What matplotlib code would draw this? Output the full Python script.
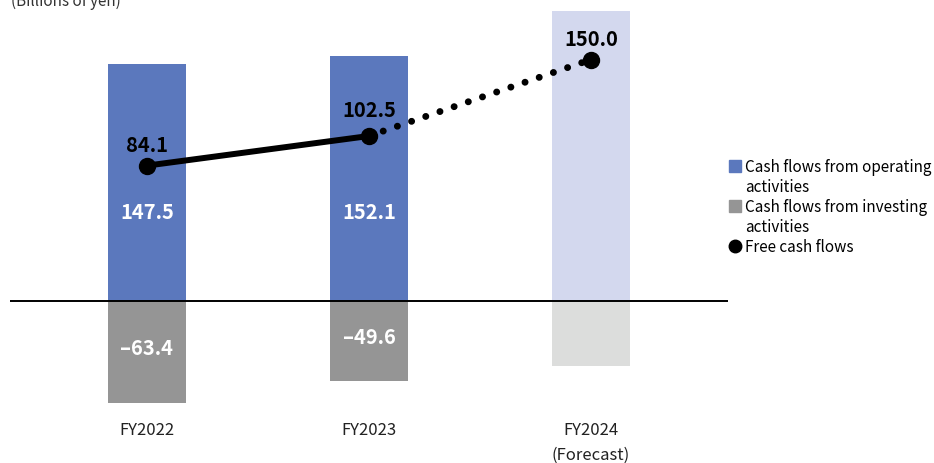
import matplotlib
matplotlib.use("Agg")
import matplotlib.pyplot as plt
from matplotlib.patches import Patch
from matplotlib.lines import Line2D

plt.rcParams['font.family'] = ['Noto Sans CJK JP', 'DejaVu Sans']

# data (billions of yen)
years = ['FY2022', 'FY2023', 'FY2024\n(Forecast)']
operating = [147.5, 152.1, 180.0]
investing = [-63.4, -49.6, -40.3]
free_cf = [84.1, 102.5, 150.0]
show_bar_labels = [True, True, False]

blue = '#5b78bd'
gray = '#959595'
blue_fc = '#d3d8ee'
gray_fc = '#dcdddc'


def main():
    fig = plt.figure(figsize=(9.34, 4.64), dpi=100)
    ax = fig.add_axes([10 / 934, 54 / 464, 718 / 934, 410 / 464])

    x = list(range(len(years)))
    op_colors = [blue, blue, blue_fc]
    inv_colors = [gray, gray, gray_fc]
    ax.bar(x, operating, width=0.35, color=op_colors, zorder=1)
    ax.bar(x, investing, width=0.35, color=inv_colors, zorder=1)
    ax.axhline(0, color='black', lw=1.4, zorder=2)

    # bar value labels
    for i in x:
        if not show_bar_labels[i]:
            continue
        ax.text(i, 55.5, f'{operating[i]:.1f}', color='white', fontsize=14.5,
                fontweight='bold', ha='center', va='center', zorder=3)
        ax.text(i, investing[i] / 2 + 3, f'–{abs(investing[i]):.1f}', color='white',
                fontsize=14.5, fontweight='bold', ha='center', va='center', zorder=3)

    # free cash flows: actual solid, forecast dotted
    ax.plot(x[:2], free_cf[:2], color='black', lw=4.3, solid_capstyle='round', zorder=4)
    ax.plot(x[1:], free_cf[1:], color='black', lw=5.0,
            linestyle=(0, (0.01, 2.15)), dash_capstyle='round', zorder=4)
    ax.plot(x, free_cf, 'o', color='black', markersize=11.5, zorder=5)
    for i, v in enumerate(free_cf):
        dy = 19 if i == 1 else 15
        ax.annotate(f'{v:.1f}', (i, v), xytext=(0, dy), textcoords='offset points',
                    ha='center', va='center', fontsize=14.5, fontweight='bold', zorder=6)

    ax.set_xlim(-0.617, 2.617)
    ax.set_ylim(-67.1, 187.6)
    ax.set_xticks(x)
    ax.set_xticklabels(years, fontsize=12, color='#222222', linespacing=1.6)
    ax.tick_params(axis='x', length=0, pad=9)
    ax.set_yticks([])
    for s in ax.spines.values():
        s.set_visible(False)

    fig.text(11 / 934, 1 - 6 / 464, '(Billions of yen)', fontsize=11,
             color='#333333', va='baseline', ha='left')

    blank = Patch(facecolor='none', edgecolor='none')
    handles = [Patch(color=blue), blank, Patch(color=gray), blank,
               Line2D([], [], marker='o', color='black', lw=0, markersize=9)]
    labels = ['Cash flows from operating', 'activities',
              'Cash flows from investing', 'activities', 'Free cash flows']
    fig.legend(handles, labels, loc='upper left', bbox_to_anchor=(729 / 934, 1 - 159 / 464),
               frameon=False, fontsize=11, handlelength=0.8, handleheight=0.8,
               handletextpad=0.25, labelspacing=0.2, borderpad=0, borderaxespad=0)

    fig.savefig('out.png', dpi=100)


if __name__ == '__main__':
    main()
